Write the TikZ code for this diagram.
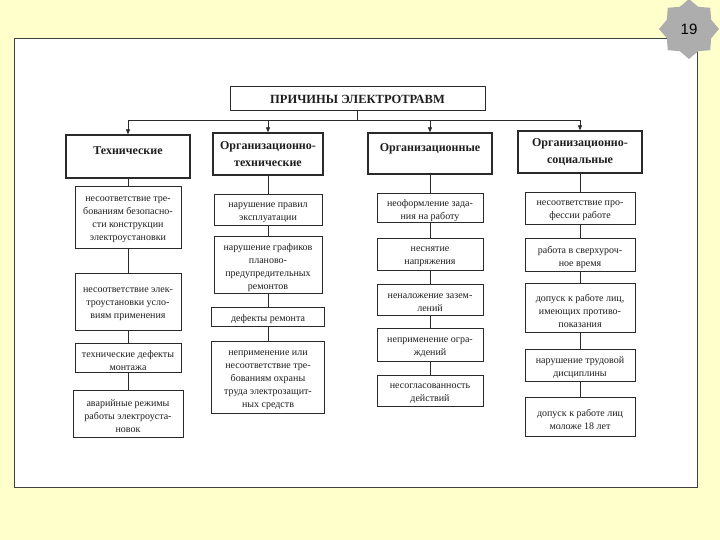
\documentclass[tikz,border=0pt]{standalone}
\usepackage{fontspec}
\setmainfont{Liberation Serif}
\newfontfamily\arialf{Liberation Sans}
\usetikzlibrary{arrows.meta,shapes.geometric}
\definecolor{bgyellow}{HTML}{FFFFCC}
\definecolor{linec}{HTML}{2A2A2A}
\definecolor{textc}{HTML}{1E1E1E}
\definecolor{starc}{HTML}{ADADAD}
% style, name, cx, top, bottom, width, text
\newcommand\mybox[7]{%
  \node[#1, minimum width=#6pt, minimum height={#5-#4}] (#2) at (#3,{(#4+#5)/2}) {#7};}
% sub box: text set as a centre label shifted a little down
\newcommand\subbox[6]{%
  \node[sub, minimum width=#5pt, minimum height={#4-#3},
    label={[subtext]center:{#6}}] (#1) at (#2,{(#3+#4)/2}) {};}
\begin{document}
\begin{tikzpicture}[x=1pt,y=-1pt,
  sub/.style={draw=linec, line width=0.8pt, inner sep=0pt},
  subtext/.style={align=center, text=textc, inner sep=0pt, yshift=-3pt,
    font=\fontsize{10}{13}\selectfont},
  cat/.style={draw=linec, line width=1.3pt, inner sep=1pt, align=center, text=textc,
    font=\fontsize{12}{17}\selectfont\bfseries},
  cat1/.style={cat, text depth=11pt},
  ttl/.style={draw=linec, line width=1pt, inner sep=1pt, align=center, text=textc,
    font=\fontsize{12.5}{14}\selectfont\bfseries},
  conn/.style={draw=linec, line width=0.8pt},
  arr/.style={conn, -{Triangle[length=5pt,width=4pt]}}]
\useasboundingbox (0,0) rectangle (720,540);
\fill[bgyellow] (0,0) rectangle (720,540);
\draw[fill=white, draw=gray!50!black, line width=0.9pt] (14,38) rectangle (697,487);

% title
\mybox{ttl}{title}{357.5}{87}{111}{255}{ПРИЧИНЫ ЭЛЕКТРОТРАВМ}

% categories
\mybox{cat1}{c1}{128}{135}{178}{124}{Технические}
\mybox{cat}{c2}{268}{133}{175}{110}{Организационно-\\технические}
\mybox{cat1}{c3}{430}{133}{174}{124}{Организационные}
\mybox{cat}{c4}{580}{131}{173}{124}{Организационно-\\социальные}

% column 1
\subbox{a1}{128}{186}{248}{106}{несоответствие тре-\\бованиям безопасно-\\сти конструкции\\электроустановки}
\subbox{a2}{128}{273}{330}{106}{несоответствие элек-\\троустановки усло-\\виям применения}
\subbox{a3}{128}{343}{372}{106}{технические дефекты\\монтажа}
\subbox{a4}{128}{390}{437}{110}{аварийные режимы\\работы электроуста-\\новок}

% column 2
\subbox{b1}{268}{194}{225}{108}{нарушение правил\\эксплуатации}
\subbox{b2}{268}{236}{293}{108}{нарушение графиков\\планово-\\предупредительных\\ремонтов}
\subbox{b3}{268}{307}{326}{113}{дефекты ремонта}
\subbox{b4}{268}{341}{413}{113}{неприменение или\\несоответствие тре-\\бованиям охраны\\труда электрозащит-\\ных средств}

% column 3
\subbox{d1}{430}{193}{222}{106}{неоформление зада-\\ния на работу}
\subbox{d2}{430}{238}{270}{106}{неснятие\\напряжения}
\subbox{d3}{430}{284}{315}{106}{неналожение зазем-\\лений}
\subbox{d4}{430}{328}{361}{106}{неприменение огра-\\ждений}
\subbox{d5}{430}{375}{406}{106}{несогласованность\\действий}

% column 4
\subbox{e1}{580}{192}{224}{110}{несоответствие про-\\фессии работе}
\subbox{e2}{580}{238}{271}{110}{работа в сверхуроч-\\ное время}
\subbox{e3}{580}{283}{332}{110}{допуск к работе лиц,\\имеющих противо-\\показания}
\subbox{e4}{580}{349}{381}{110}{нарушение трудовой\\дисциплины}
\subbox{e5}{580}{397}{436}{110}{допуск к работе лиц\\моложе 18 лет}

% bus
\draw[conn] (title.south) -- ++(0,9) coordinate (bus);
\draw[conn] (bus -| c1.north) -- (bus -| c4.north);
\foreach \c in {c1,c2,c3,c4} \draw[arr] (bus -| \c.north) -- (\c.north);

% column connectors
\draw[conn] (c1) -- (a1) (a1) -- (a2) (a2) -- (a3) (a3) -- (a4);
\draw[conn] (c2) -- (b1) (b1) -- (b2) (b2) -- (b3) (b3) -- (b4);
\draw[conn] (c3) -- (d1) (d1) -- (d2) (d2) -- (d3) (d3) -- (d4) (d4) -- (d5);
\draw[conn] (c4) -- (e1) (e1) -- (e2) (e2) -- (e3) (e3) -- (e4) (e4) -- (e5);

% page badge
\node[star, star points=8, star point ratio=1.25, minimum size=60pt, fill=starc,
  inner sep=0pt, font=\arialf\fontsize{15}{15}\selectfont] (badge) at (689,29) {19};
\end{tikzpicture}
\end{document}
